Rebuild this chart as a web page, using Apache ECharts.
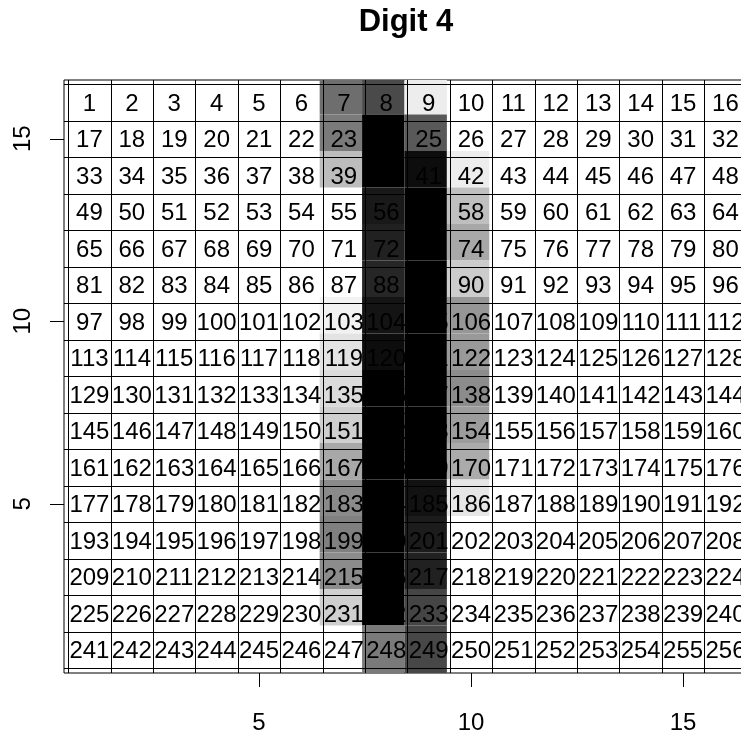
<!DOCTYPE html>
<html><head><meta charset="utf-8">
<script src="https://cdn.jsdelivr.net/npm/echarts@6/dist/echarts.min.js"></script>
<style>html,body{margin:0;padding:0;background:#fff}#c{width:741px;height:736px}</style>
</head><body><div id="c"></div>
<script>
const titleText = 'Digit 4';
const nCols = 16;
const nRows = 16;
const xTicks = [5, 10, 15];
const yTicks = [5, 10, 15];
// ink darkness of each pixel of the digit image (0 = white, 1 = black), rows listed top to bottom
const ink = [
  [0,0,0,0,0,0,0.57,0.71,0.07,0,0,0,0,0,0,0],
  [0,0,0,0,0,0,0.52,1.00,0.65,0,0,0,0,0,0,0],
  [0,0,0,0,0,0,0.26,1.00,0.95,0.07,0,0,0,0,0,0],
  [0,0,0,0,0,0,0,0.90,1.00,0.25,0,0,0,0,0,0],
  [0,0,0,0,0,0,0,0.87,1.00,0.34,0,0,0,0,0,0],
  [0,0,0,0,0,0,0,0.85,1.00,0.20,0,0,0,0,0,0],
  [0,0,0,0,0,0,0.05,0.92,1.00,0.41,0,0,0,0,0,0],
  [0,0,0,0,0,0,0.11,0.95,1.00,0.40,0,0,0,0,0,0],
  [0,0,0,0,0,0,0.14,1.00,1.00,0.45,0,0,0,0,0,0],
  [0,0,0,0,0,0,0.19,1.00,1.00,0.39,0,0,0,0,0,0],
  [0,0,0,0,0,0,0.34,1.00,1.00,0.33,0,0,0,0,0,0],
  [0,0,0,0,0,0,0.46,1.00,0.93,0.10,0,0,0,0,0,0],
  [0,0,0,0,0,0,0.50,1.00,0.89,0,0,0,0,0,0,0],
  [0,0,0,0,0,0,0.45,1.00,0.87,0,0,0,0,0,0,0],
  [0,0,0,0,0,0,0.19,1.00,0.73,0,0,0,0,0,0,0],
  [0,0,0,0,0,0,0,0.52,0.72,0,0,0,0,0,0,0]
];

const FONT = '"Liberation Sans", Arial, sans-serif';
const IMG_DX = -0.07;   // image layer drawn slightly offset from the numbered grid
const IMG_DY = 0.165;

const imgData = [];
const labelData = [];
for (let r = 0; r < nRows; r++) {
  for (let c = 0; c < nCols; c++) {
    const x = c + 1, y = nRows - r;
    labelData.push([x, y, r * nCols + c + 1]);
    if (ink[r][c] > 0) imgData.push([x, y, ink[r][c]]);
  }
}
const lineData = [];
for (let i = 0; i <= nCols; i++) lineData.push([0, i + 0.5]);
for (let i = 0; i <= nRows; i++) lineData.push([1, i + 0.5]);

const chart = echarts.init(document.getElementById('c'), null, {renderer: 'canvas'});
chart.setOption({
  animation: false,
  backgroundColor: '#fff',
  title: {
    text: titleText, left: 406, top: 7, padding: 0, textAlign: 'center',
    textStyle: {fontFamily: FONT, fontSize: 31, fontWeight: 'bold', color: '#000'}
  },
  grid: {left: 64, top: 80, width: 686.9, height: 593, show: true, borderColor: '#000', borderWidth: 1,
         backgroundColor: 'transparent', containLabel: false, outerBoundsMode: 'none'},
  xAxis: {
    type: 'value', min: 0.4, max: 16.6,
    axisLine: {show: false}, splitLine: {show: false},
    axisTick: {show: true, customValues: xTicks, length: 14, lineStyle: {color: '#000', width: 1}},
    axisLabel: {customValues: xTicks, margin: 38, fontSize: 24, color: '#000', fontFamily: FONT}
  },
  yAxis: {
    type: 'value', min: 0.363, max: 16.61,
    axisLine: {show: false}, splitLine: {show: false},
    axisTick: {show: true, customValues: yTicks, length: 14, lineStyle: {color: '#000', width: 1}},
    axisLabel: {customValues: yTicks, rotate: 90, margin: 29, fontSize: 24, color: '#000', fontFamily: FONT}
  },
  series: [
    {
      type: 'custom', name: 'image', clip: true, silent: true,
      data: imgData,
      renderItem: function (params, api) {
        const c = api.value(0), y = api.value(1), d = api.value(2);
        const yLow = (y === 1) ? y - 1.0 : y - 0.5;
        const p0 = api.coord([c - 0.5 + IMG_DX, y + 0.5 + IMG_DY]);
        const p1 = api.coord([c + 0.5 + IMG_DX, yLow + IMG_DY]);
        const g = Math.round(255 * (1 - d));
        return {type: 'rect', shape: {x: p0[0], y: p0[1], width: p1[0] - p0[0], height: p1[1] - p0[1]},
                style: {fill: 'rgb(' + g + ',' + g + ',' + g + ')'}};
      }
    },
    {
      type: 'custom', name: 'grid', clip: true, silent: true,
      data: lineData,
      renderItem: function (params, api) {
        const cs = params.coordSys;
        const o = api.value(0), v = api.value(1);
        if (o === 0) {
          const px = Math.round(api.coord([v, 1])[0]) + 0.5;
          return {type: 'line', shape: {x1: px, y1: cs.y, x2: px, y2: cs.y + cs.height},
                  style: {stroke: '#000', lineWidth: 1}};
        }
        const py = Math.round(api.coord([1, v])[1]) + 0.5;
        return {type: 'line', shape: {x1: cs.x, y1: py, x2: cs.x + cs.width, y2: py},
                style: {stroke: '#000', lineWidth: 1}};
      }
    },
    {
      type: 'custom', name: 'numbers', clip: true, silent: true,
      data: labelData,
      renderItem: function (params, api) {
        const p = api.coord([api.value(0), api.value(1)]);
        return {type: 'text', x: p[0], y: p[1] + 2,
                style: {text: String(api.value(2)), fill: '#000', font: '24px ' + FONT,
                        align: 'center', verticalAlign: 'middle'}};
      }
    }
  ]
});
</script></body></html>
